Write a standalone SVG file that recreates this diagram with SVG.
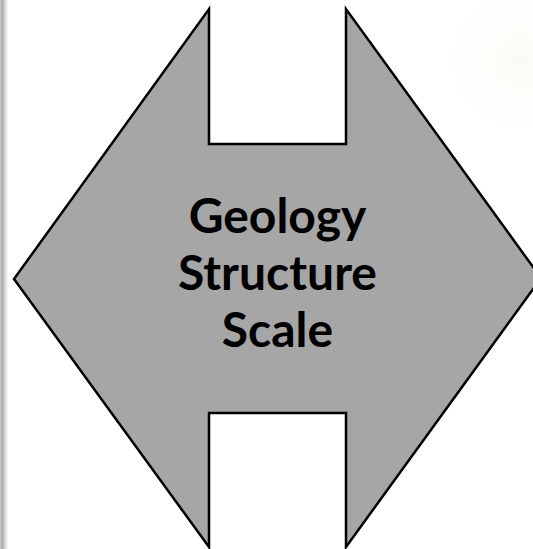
<svg xmlns="http://www.w3.org/2000/svg" width="533" height="549" viewBox="0 0 533 549">
<style>
.shape{fill:#a6a6a6;stroke:#000;stroke-width:2.5;stroke-linejoin:miter}
.lbl{font-family:"Lato","Liberation Sans",sans-serif;font-weight:700;font-size:48px;fill:#000;text-anchor:middle}
</style>
<defs>
<linearGradient id="edge" x1="0" y1="0" x2="1" y2="0">
<stop offset="0" stop-color="#d0d0d0"/>
<stop offset="0.25" stop-color="#a8a8a8"/>
<stop offset="1" stop-color="#ffffff"/>
</linearGradient>
<radialGradient id="glow" cx="520" cy="60" r="110" gradientUnits="userSpaceOnUse">
<stop offset="0" stop-color="#fcfaf4"/>
<stop offset="1" stop-color="#ffffff" stop-opacity="0"/>
</radialGradient>
</defs>
<rect width="533" height="549" fill="#fff"/>
<rect x="0" y="0" width="8" height="549" fill="url(#edge)"/>
<rect x="400" y="0" width="133" height="200" fill="url(#glow)"/>
<g id="node-main">
<path class="shape" d="M209,9 L209,144 L346,144 L346,9 L541,278 L346,547 L346,413 L209,413 L209,547 L14,279 Z"/>
<text class="lbl" x="277.5" y="233">Geology</text>
<text class="lbl" x="277.5" y="290">Structure</text>
<text class="lbl" x="277.5" y="347">Scale</text>
</g>
<g id="connectors"/>
</svg>
